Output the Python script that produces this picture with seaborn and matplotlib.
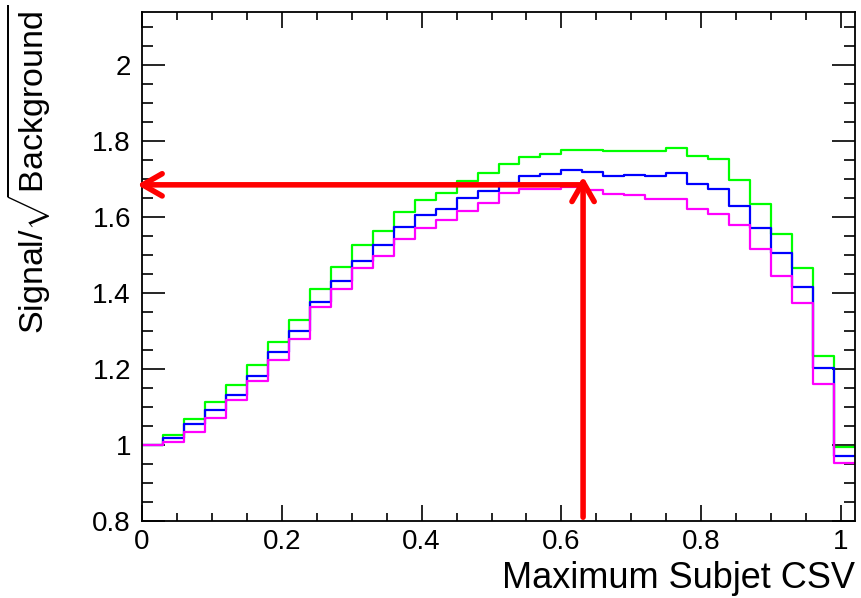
import numpy as np
import pandas as pd
import matplotlib
matplotlib.use("Agg")
import matplotlib.pyplot as plt
from matplotlib.ticker import MultipleLocator, FormatStrFormatter
import seaborn as sns

# Bin edges of the CSV histograms (34 bins of 0.03)
bin_edges = np.linspace(0, 1.02, 35)

# Signal / sqrt(Background) per bin
green_vals = [1.000, 1.026, 1.068, 1.112, 1.157, 1.210, 1.272, 1.329, 1.412, 1.469,
              1.526, 1.563, 1.613, 1.645, 1.664, 1.694, 1.715, 1.740, 1.757, 1.767,
              1.776, 1.776, 1.774, 1.774, 1.774, 1.781, 1.762, 1.753, 1.698, 1.634,
              1.555, 1.466, 1.234, 0.995]
blue_vals = [1.000, 1.019, 1.055, 1.091, 1.133, 1.181, 1.244, 1.301, 1.377, 1.433,
             1.485, 1.526, 1.573, 1.605, 1.622, 1.650, 1.670, 1.690, 1.708, 1.713,
             1.723, 1.719, 1.707, 1.712, 1.708, 1.716, 1.687, 1.674, 1.629, 1.572,
             1.505, 1.416, 1.202, 0.971]
magenta_vals = [1.000, 1.007, 1.034, 1.071, 1.118, 1.168, 1.224, 1.280, 1.363, 1.412,
                1.466, 1.497, 1.543, 1.571, 1.592, 1.617, 1.637, 1.664, 1.675, 1.674,
                1.680, 1.671, 1.662, 1.658, 1.649, 1.649, 1.621, 1.609, 1.580, 1.515,
                1.445, 1.375, 1.161, 0.953]

# Working point marked by the red arrows
cut_value = 0.631
cut_significance = 1.685

# Long table for seaborn (repeat last value so the last step reaches the edge)
frames = []
for name, vals in [("green", green_vals), ("blue", blue_vals), ("magenta", magenta_vals)]:
    frames.append(pd.DataFrame({"csv": bin_edges,
                                "signif": list(vals) + [vals[-1]],
                                "series": name}))
hist_data = pd.concat(frames, ignore_index=True)

sns.set_style("ticks")
plt.rcParams["font.family"] = ["Liberation Sans", "DejaVu Sans"]
plt.rcParams["mathtext.fontset"] = "custom"
plt.rcParams["mathtext.rm"] = "Liberation Sans"
plt.rcParams["mathtext.it"] = "Liberation Sans:italic"
plt.rcParams["mathtext.bf"] = "Liberation Sans:bold"
plt.rcParams["axes.labelcolor"] = "black"
plt.rcParams["text.color"] = "black"

fig = plt.figure(figsize=(8.61, 5.98), dpi=100)
ax = fig.add_axes([142 / 861, 1 - 521 / 598, (855 - 142) / 861, (521 - 12) / 598])

sns.lineplot(data=hist_data, x="csv", y="signif", hue="series",
             palette={"green": "#00ff00", "blue": "#0000ff", "magenta": "#ff00ff"},
             drawstyle="steps-post", linewidth=1.6, estimator=None,
             legend=False, ax=ax)

# Red arrows
arrow_props = dict(arrowstyle="->,head_length=0.7,head_width=0.4", color="red",
                   lw=4, mutation_scale=20, shrinkA=0, shrinkB=0)
ax.annotate("", xy=(-0.007, cut_significance), xytext=(cut_value, cut_significance),
            arrowprops=arrow_props, annotation_clip=False)
ax.annotate("", xy=(cut_value, 1.707), xytext=(cut_value, 0.81),
            arrowprops=arrow_props, annotation_clip=False)

ax.set_xlim(0, 1.02)
ax.set_ylim(0.8, 2.14)
ax.xaxis.set_major_locator(MultipleLocator(0.2))
ax.xaxis.set_minor_locator(MultipleLocator(0.05))
ax.yaxis.set_major_locator(MultipleLocator(0.2))
ax.yaxis.set_minor_locator(MultipleLocator(0.05))
ax.xaxis.set_major_formatter(FormatStrFormatter("%g"))
ax.yaxis.set_major_formatter(FormatStrFormatter("%g"))

ax.tick_params(which="both", direction="in", top=True, right=True, width=1.2,
               colors="black", labelsize=20)
ax.tick_params(axis="x", which="major", length=11.5, pad=6)
ax.tick_params(axis="x", which="minor", length=6)
ax.tick_params(axis="y", which="major", length=16.5, pad=8)
ax.tick_params(axis="y", which="minor", length=8)
for spine in ax.spines.values():
    spine.set_linewidth(1.3)
    spine.set_color("black")

ax.set_xlabel("Maximum Subjet CSV", fontsize=26, loc="right", color="black")
ax.xaxis.set_label_coords(1.0, -0.078)
ax.set_ylabel(r"Signal/$\sqrt{\mathrm{Background}}$", fontsize=24.5, loc="top",
              color="black")
ax.yaxis.set_label_coords(-0.125, 1.016)

fig.savefig("out.png", dpi=100)
